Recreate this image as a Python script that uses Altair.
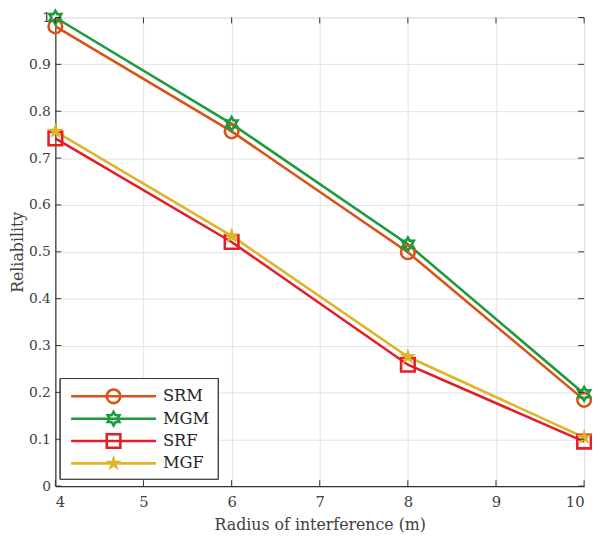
import altair as alt
import pandas as pd

series = ["SRM", "MGM", "SRF", "MGF"]
x_vals = [4, 6, 8, 10]
srm = [0.981, 0.757, 0.499, 0.184]
mgm = [1.0, 0.773, 0.516, 0.197]
srf = [0.742, 0.521, 0.259, 0.095]
mgf = [0.757, 0.534, 0.276, 0.104]
colors = ["#D95319", "#1E9A3D", "#E41E26", "#DDB42A"]
x_ticks = [4, 5, 6, 7, 8, 9, 10]
y_ticks = [0, 0.1, 0.2, 0.3, 0.4, 0.5, 0.6, 0.7, 0.8, 0.9, 1]

hexagram = ("M0,-1L0.2887,-0.5L0.866,-0.5L0.577,0L0.866,0.5L0.2887,0.5L0,1"
            "L-0.2887,0.5L-0.866,0.5L-0.577,0L-0.866,-0.5L-0.2887,-0.5Z")
pentagram = ("M0,-1L0.2245,-0.309L0.9511,-0.309L0.3633,0.118L0.5878,0.809L0,0.382"
             "L-0.5878,0.809L-0.3633,0.118L-0.9511,-0.309L-0.2245,-0.309Z")
shapes = ["circle", hexagram, "square", pentagram]

rows = []
for name, vals in zip(series, [srm, mgm, srf, mgf]):
    for xv, yv in zip(x_vals, vals):
        rows.append({"series": name, "x": xv, "y": yv})
df = pd.DataFrame(rows)

W, H = 536, 475
FONT = "DejaVu Serif"
TXT = "#404040"

color_enc = alt.Color("series:N", scale=alt.Scale(domain=series, range=colors), legend=None)
shape_enc = alt.Shape("series:N", scale=alt.Scale(domain=series, range=shapes), legend=None)

xs = alt.Scale(domain=[4, 10], nice=False, zero=False)
ys = alt.Scale(domain=[0, 1], nice=False)

x_main = alt.X("x:Q", scale=xs, axis=alt.Axis(
    values=x_ticks, format="~g", grid=True, ticks=False, title="Radius of interference (m)",
    labelFont=FONT, labelFontSize=15, labelColor=TXT, labelPadding=9,
    titleFont=FONT, titleFontSize=16, titleFontWeight="normal", titleColor=TXT, titlePadding=7,
    domainColor="#333333", domainWidth=1.2, gridColor="#e3e3e3", gridWidth=1))
y_main = alt.Y("y:Q", scale=ys, axis=alt.Axis(
    values=y_ticks, format="~g", grid=True, ticks=False, title="Reliability",
    labelFont=FONT, labelFontSize=14, labelColor=TXT, labelPadding=5,
    titleFont=FONT, titleFontSize=16, titleFontWeight="normal", titleColor=TXT, titlePadding=3,
    domainColor="#333333", domainWidth=1.2, gridColor="#e3e3e3", gridWidth=1))

base = alt.Chart(df)
lines = base.mark_line(strokeWidth=2.6).encode(x=x_main, y=y_main, color=color_enc)

open_pts = base.transform_filter(alt.datum.series != "MGF").mark_point(
    filled=False, strokeWidth=2.6, opacity=1, size=190).encode(
    x="x:Q", y="y:Q", color=color_enc, shape=shape_enc)
star_pts = base.transform_filter(alt.datum.series == "MGF").mark_point(
    filled=True, opacity=1, size=300).encode(
    x="x:Q", y="y:Q", color=color_enc, shape=shape_enc)

# inward tick marks, from tick lists
xt = alt.Chart(pd.DataFrame({"x": x_ticks}))
yt = alt.Chart(pd.DataFrame({"y": y_ticks}))
TK = dict(color="#333333", strokeWidth=1)
t_bot = xt.mark_rule(**TK).encode(x="x:Q", y=alt.value(H - 6), y2=alt.value(H))
t_top = xt.mark_rule(**TK).encode(x="x:Q", y=alt.value(0), y2=alt.value(6))
t_left = yt.mark_rule(**TK).encode(y="y:Q", x=alt.value(0), x2=alt.value(6))
t_right = yt.mark_rule(**TK).encode(y="y:Q", x=alt.value(W - 6), x2=alt.value(W))

main = alt.layer(lines, open_pts, star_pts, t_bot, t_top, t_left, t_right)

# legend
leg_df = pd.DataFrame({"series": series})
leg_base = alt.Chart(leg_df)
ly = alt.Y("series:N", scale=alt.Scale(type="point", domain=series, range=[384, 452], padding=0), axis=None)

box = alt.Chart(leg_df).mark_rect(
    fill="white", stroke="#333333", strokeWidth=1).encode(
    x=alt.value(5), x2=alt.value(165), y=alt.value(366), y2=alt.value(468))
leg_rules = leg_base.mark_rule(strokeWidth=2.6).encode(
    x=alt.value(16), x2=alt.value(102), y=ly, color=color_enc)
leg_open = leg_base.transform_filter(alt.datum.series != "MGF").mark_point(
    filled=False, strokeWidth=2.6, opacity=1, size=190).encode(
    x=alt.value(59), y=ly, color=color_enc, shape=shape_enc)
leg_star = leg_base.transform_filter(alt.datum.series == "MGF").mark_point(
    filled=True, opacity=1, size=300).encode(
    x=alt.value(59), y=ly, color=color_enc, shape=shape_enc)
leg_text = leg_base.mark_text(align="left", baseline="middle", font=FONT, fontSize=16.5, color="#262626").encode(
    x=alt.value(109), y=ly, text="series:N")

legend = alt.layer(box, leg_rules, leg_open, leg_star, leg_text)

chart = alt.layer(main, legend).resolve_scale(y="independent").properties(
    width=W, height=H,
    autosize=alt.AutoSizeParams(type="none"),
    padding={"left": 48, "top": 6, "right": 8, "bottom": 50},
).configure_view(stroke="#888888", strokeWidth=1.5).configure(background="white")

chart.save("out.html", embed_options={"renderer": "svg", "actions": False})
